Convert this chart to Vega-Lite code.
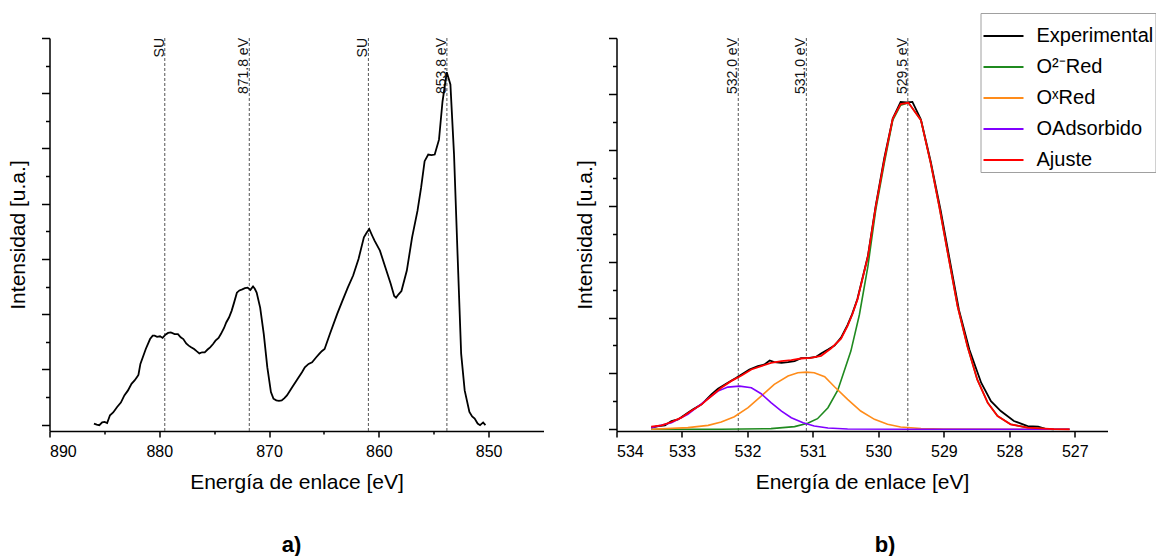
{
 "$schema": "https://vega.github.io/schema/vega-lite/v6.json",
 "padding": {"left": 7.5, "top": 12, "right": 0, "bottom": 0},
 "bounds": "flush",
 "spacing": 73,
 "config": {
  "view": {"stroke": null},
  "font": "Liberation Sans",
  "axis": {"domainColor": "black", "domainWidth": 1.5, "tickColor": "black", "tickWidth": 1.5, "labelColor": "black", "labelFont": "Liberation Sans", "labelFontSize": 16, "titleFont": "Liberation Sans", "titleFontSize": 21, "titleFontWeight": "normal", "titleColor": "black", "grid": false}
 },
 "datasets": {
  "ni": [
   {"E":885.95,"I":0.02},{"E":885.7,"I":0.0},{"E":885.46,"I":-0.01},{"E":885.2,"I":0.04},{"E":884.98,"I":0.05},{"E":884.75,"I":0.03},{"E":884.49,"I":0.17},{"E":884.2,"I":0.22},{"E":883.84,"I":0.32},{"E":883.5,"I":0.40},{"E":883.18,"I":0.53},{"E":882.85,"I":0.62},{"E":882.53,"I":0.74},{"E":882.25,"I":0.80},{"E":882.04,"I":0.86},{"E":881.9,"I":0.90},{"E":881.72,"I":1.10},{"E":881.5,"I":1.22},{"E":881.23,"I":1.37},{"E":880.84,"I":1.55},{"E":880.6,"I":1.61},{"E":880.42,"I":1.61},{"E":880.2,"I":1.59},{"E":879.93,"I":1.60},{"E":879.7,"I":1.57},{"E":879.44,"I":1.63},{"E":879.2,"I":1.66},{"E":878.95,"I":1.67},{"E":878.6,"I":1.64},{"E":878.3,"I":1.64},{"E":878.05,"I":1.58},{"E":877.81,"I":1.55},{"E":877.55,"I":1.47},{"E":877.32,"I":1.43},{"E":877.1,"I":1.40},{"E":876.83,"I":1.37},{"E":876.6,"I":1.33},{"E":876.35,"I":1.29},{"E":876.1,"I":1.31},{"E":875.86,"I":1.31},{"E":875.6,"I":1.36},{"E":875.37,"I":1.40},{"E":875.1,"I":1.46},{"E":874.88,"I":1.52},{"E":874.6,"I":1.57},{"E":874.39,"I":1.64},{"E":874.1,"I":1.75},{"E":873.9,"I":1.85},{"E":873.65,"I":1.94},{"E":873.41,"I":2.06},{"E":873.2,"I":2.20},{"E":872.93,"I":2.39},{"E":872.7,"I":2.43},{"E":872.44,"I":2.45},{"E":872.2,"I":2.47},{"E":871.95,"I":2.48},{"E":871.7,"I":2.44},{"E":871.46,"I":2.50},{"E":871.3,"I":2.46},{"E":871.13,"I":2.39},{"E":870.81,"I":2.12},{"E":870.48,"I":1.64},{"E":870.16,"I":1.04},{"E":869.83,"I":0.59},{"E":869.6,"I":0.47},{"E":869.34,"I":0.44},{"E":869.1,"I":0.43},{"E":868.85,"I":0.44},{"E":868.6,"I":0.48},{"E":868.37,"I":0.53},{"E":867.88,"I":0.68},{"E":867.39,"I":0.83},{"E":867.0,"I":0.95},{"E":866.74,"I":1.04},{"E":866.4,"I":1.10},{"E":866.08,"I":1.13},{"E":865.7,"I":1.22},{"E":865.43,"I":1.28},{"E":865.2,"I":1.33},{"E":864.94,"I":1.37},{"E":864.46,"I":1.64},{"E":863.8,"I":2.00},{"E":863.32,"I":2.24},{"E":862.83,"I":2.48},{"E":862.34,"I":2.70},{"E":861.85,"I":3.00},{"E":861.36,"I":3.39},{"E":861.1,"I":3.48},{"E":860.87,"I":3.54},{"E":860.6,"I":3.42},{"E":860.39,"I":3.33},{"E":859.9,"I":3.15},{"E":859.41,"I":2.85},{"E":858.92,"I":2.55},{"E":858.6,"I":2.33},{"E":858.43,"I":2.30},{"E":858.2,"I":2.36},{"E":857.94,"I":2.42},{"E":857.45,"I":2.79},{"E":856.97,"I":3.39},{"E":856.48,"I":3.87},{"E":856.15,"I":4.29},{"E":855.83,"I":4.77},{"E":855.5,"I":4.89},{"E":855.2,"I":4.88},{"E":854.91,"I":4.89},{"E":854.52,"I":5.16},{"E":854.2,"I":5.85},{"E":853.81,"I":6.38},{"E":853.48,"I":6.16},{"E":853.15,"I":4.89},{"E":852.83,"I":3.09},{"E":852.5,"I":1.28},{"E":852.18,"I":0.62},{"E":851.75,"I":0.23},{"E":851.5,"I":0.15},{"E":851.27,"I":0.11},{"E":851.0,"I":0.02},{"E":850.78,"I":-0.01},{"E":850.5,"I":0.04},{"E":850.29,"I":-0.01}
  ],
  "lines_a": [
   {"E":879.5,"t":"SU"},{"E":871.8,"t":"871.8 eV"},{"E":860.95,"t":"SU"},{"E":853.8,"t":"853.8 eV"}
  ],
  "lines_b": [
   {"E":532.14,"t":"532.0 eV"},{"E":531.1,"t":"531.0 eV"},{"E":529.55,"t":"529.5 eV"}
  ],
  "o": [
   {"s":"Experimental","E":533.47,"I":0.03},{"s":"Experimental","E":533.36,"I":0.059},{"s":"Experimental","E":533.26,"I":0.071},{"s":"Experimental","E":533.16,"I":0.149},{"s":"Experimental","E":533.06,"I":0.178},{"s":"Experimental","E":532.91,"I":0.297},{"s":"Experimental","E":532.83,"I":0.357},{"s":"Experimental","E":532.7,"I":0.446},{"s":"Experimental","E":532.55,"I":0.624},{"s":"Experimental","E":532.45,"I":0.726},{"s":"Experimental","E":532.3,"I":0.833},{"s":"Experimental","E":532.17,"I":0.922},{"s":"Experimental","E":532.09,"I":0.981},{"s":"Experimental","E":531.97,"I":1.07},{"s":"Experimental","E":531.84,"I":1.13},{"s":"Experimental","E":531.74,"I":1.16},{"s":"Experimental","E":531.66,"I":1.231},{"s":"Experimental","E":531.59,"I":1.201},{"s":"Experimental","E":531.48,"I":1.189},{"s":"Experimental","E":531.38,"I":1.201},{"s":"Experimental","E":531.28,"I":1.219},{"s":"Experimental","E":531.18,"I":1.273},{"s":"Experimental","E":531.08,"I":1.273},{"s":"Experimental","E":530.95,"I":1.297},{"s":"Experimental","E":530.875,"I":1.356},{"s":"Experimental","E":530.77,"I":1.427},{"s":"Experimental","E":530.67,"I":1.499},{"s":"Experimental","E":530.57,"I":1.64},{"s":"Experimental","E":530.47,"I":1.87},{"s":"Experimental","E":530.4,"I":2.06},{"s":"Experimental","E":530.32,"I":2.33},{"s":"Experimental","E":530.16,"I":3.1},{"s":"Experimental","E":530.04,"I":4.0},{"s":"Experimental","E":529.91,"I":4.85},{"s":"Experimental","E":529.78,"I":5.56},{"s":"Experimental","E":529.66,"I":5.858},{"s":"Experimental","E":529.57,"I":5.85},{"s":"Experimental","E":529.48,"I":5.858},{"s":"Experimental","E":529.35,"I":5.543},{"s":"Experimental","E":529.2,"I":4.787},{"s":"Experimental","E":529.05,"I":3.925},{"s":"Experimental","E":528.92,"I":3.093},{"s":"Experimental","E":528.77,"I":2.141},{"s":"Experimental","E":528.61,"I":1.427},{"s":"Experimental","E":528.43,"I":0.833},{"s":"Experimental","E":528.28,"I":0.505},{"s":"Experimental","E":528.13,"I":0.327},{"s":"Experimental","E":527.93,"I":0.149},{"s":"Experimental","E":527.72,"I":0.059},{"s":"Experimental","E":527.56,"I":0.048},{"s":"Experimental","E":527.46,"I":0.012},{"s":"Experimental","E":527.32,"I":0.0},
   {"s":"O²⁻Red","E":533.47,"I":0.0},{"s":"O²⁻Red","E":532.4,"I":0.0},{"s":"O²⁻Red","E":531.64,"I":0.012},{"s":"O²⁻Red","E":531.28,"I":0.048},{"s":"O²⁻Red","E":531.08,"I":0.107},{"s":"O²⁻Red","E":530.93,"I":0.19},{"s":"O²⁻Red","E":530.77,"I":0.387},{"s":"O²⁻Red","E":530.62,"I":0.7},{"s":"O²⁻Red","E":530.5,"I":1.12},{"s":"O²⁻Red","E":530.42,"I":1.4},{"s":"O²⁻Red","E":530.29,"I":2.05},{"s":"O²⁻Red","E":530.16,"I":2.914},{"s":"O²⁻Red","E":530.04,"I":3.925},{"s":"O²⁻Red","E":529.91,"I":4.758},{"s":"O²⁻Red","E":529.78,"I":5.531},{"s":"O²⁻Red","E":529.66,"I":5.798},{"s":"O²⁻Red","E":529.54,"I":5.84},{"s":"O²⁻Red","E":529.35,"I":5.531},{"s":"O²⁻Red","E":529.2,"I":4.758},{"s":"O²⁻Red","E":529.07,"I":3.985},{"s":"O²⁻Red","E":528.94,"I":3.152},{"s":"O²⁻Red","E":528.79,"I":2.2},{"s":"O²⁻Red","E":528.64,"I":1.487},{"s":"O²⁻Red","E":528.49,"I":0.892},{"s":"O²⁻Red","E":528.33,"I":0.476},{"s":"O²⁻Red","E":528.18,"I":0.238},{"s":"O²⁻Red","E":527.98,"I":0.089},{"s":"O²⁻Red","E":527.72,"I":0.03},{"s":"O²⁻Red","E":527.32,"I":0.0},{"s":"O²⁻Red","E":527.08,"I":0.0},
   {"s":"OˣRed","E":533.47,"I":0.0},{"s":"OˣRed","E":532.91,"I":0.03},{"s":"OˣRed","E":532.6,"I":0.071},{"s":"OˣRed","E":532.4,"I":0.131},{"s":"OˣRed","E":532.2,"I":0.226},{"s":"OˣRed","E":531.99,"I":0.387},{"s":"OˣRed","E":531.79,"I":0.595},{"s":"OˣRed","E":531.59,"I":0.803},{"s":"OˣRed","E":531.38,"I":0.952},{"s":"OˣRed","E":531.23,"I":1.011},{"s":"OˣRed","E":531.1,"I":1.023},{"s":"OˣRed","E":530.98,"I":1.011},{"s":"OˣRed","E":530.82,"I":0.94},{"s":"OˣRed","E":530.67,"I":0.761},{"s":"OˣRed","E":530.47,"I":0.535},{"s":"OˣRed","E":530.27,"I":0.327},{"s":"OˣRed","E":530.06,"I":0.178},{"s":"OˣRed","E":529.86,"I":0.089},{"s":"OˣRed","E":529.66,"I":0.042},{"s":"OˣRed","E":529.45,"I":0.024},{"s":"OˣRed","E":529.35,"I":0.012},{"s":"OˣRed","E":529.0,"I":0.003},{"s":"OˣRed","E":528.0,"I":0.0},{"s":"OˣRed","E":527.08,"I":0.0},
   {"s":"OAdsorbido","E":533.47,"I":0.03},{"s":"OAdsorbido","E":533.16,"I":0.119},{"s":"OAdsorbido","E":532.91,"I":0.268},{"s":"OAdsorbido","E":532.65,"I":0.505},{"s":"OAdsorbido","E":532.45,"I":0.684},{"s":"OAdsorbido","E":532.3,"I":0.755},{"s":"OAdsorbido","E":532.12,"I":0.773},{"s":"OAdsorbido","E":531.94,"I":0.743},{"s":"OAdsorbido","E":531.79,"I":0.636},{"s":"OAdsorbido","E":531.64,"I":0.476},{"s":"OAdsorbido","E":531.48,"I":0.327},{"s":"OAdsorbido","E":531.33,"I":0.208},{"s":"OAdsorbido","E":531.15,"I":0.119},{"s":"OAdsorbido","E":530.98,"I":0.059},{"s":"OAdsorbido","E":530.77,"I":0.024},{"s":"OAdsorbido","E":530.47,"I":0.005},{"s":"OAdsorbido","E":529.5,"I":0.0},{"s":"OAdsorbido","E":528.0,"I":0.0},{"s":"OAdsorbido","E":527.08,"I":0.0},
   {"s":"Ajuste","E":533.47,"I":0.048},{"s":"Ajuste","E":533.31,"I":0.071},{"s":"Ajuste","E":533.16,"I":0.131},{"s":"Ajuste","E":533.01,"I":0.208},{"s":"Ajuste","E":532.86,"I":0.327},{"s":"Ajuste","E":532.7,"I":0.446},{"s":"Ajuste","E":532.55,"I":0.595},{"s":"Ajuste","E":532.4,"I":0.743},{"s":"Ajuste","E":532.25,"I":0.862},{"s":"Ajuste","E":532.09,"I":0.963},{"s":"Ajuste","E":531.94,"I":1.07},{"s":"Ajuste","E":531.79,"I":1.13},{"s":"Ajuste","E":531.64,"I":1.189},{"s":"Ajuste","E":531.48,"I":1.219},{"s":"Ajuste","E":531.33,"I":1.237},{"s":"Ajuste","E":531.18,"I":1.267},{"s":"Ajuste","E":531.03,"I":1.279},{"s":"Ajuste","E":530.875,"I":1.315},{"s":"Ajuste","E":530.72,"I":1.45},{"s":"Ajuste","E":530.57,"I":1.62},{"s":"Ajuste","E":530.47,"I":1.85},{"s":"Ajuste","E":530.4,"I":2.05},{"s":"Ajuste","E":530.32,"I":2.32},{"s":"Ajuste","E":530.16,"I":3.09},{"s":"Ajuste","E":530.04,"I":3.985},{"s":"Ajuste","E":529.91,"I":4.817},{"s":"Ajuste","E":529.78,"I":5.56},{"s":"Ajuste","E":529.66,"I":5.816},{"s":"Ajuste","E":529.54,"I":5.84},{"s":"Ajuste","E":529.35,"I":5.531},{"s":"Ajuste","E":529.2,"I":4.758},{"s":"Ajuste","E":529.07,"I":3.985},{"s":"Ajuste","E":528.94,"I":3.152},{"s":"Ajuste","E":528.79,"I":2.2},{"s":"Ajuste","E":528.64,"I":1.487},{"s":"Ajuste","E":528.49,"I":0.892},{"s":"Ajuste","E":528.33,"I":0.476},{"s":"Ajuste","E":528.18,"I":0.238},{"s":"Ajuste","E":527.98,"I":0.089},{"s":"Ajuste","E":527.72,"I":0.03},{"s":"Ajuste","E":527.32,"I":0.005},{"s":"Ajuste","E":527.08,"I":0.0}
  ]
 },
 "hconcat": [
  {
   "width": 494,
   "height": 393,
   "title": {"text": "a)", "orient": "bottom", "fontSize": 22, "fontWeight": "bold", "frame": "group", "anchor": "middle", "dx": -5, "offset": 43, "color": "black", "font": "Liberation Sans"},
   "layer": [
    {
     "data": {"name": "lines_a"},
     "mark": {"type": "rule", "strokeDash": [3, 2], "color": "#555555", "strokeWidth": 1},
     "encoding": {
      "x": {"field": "E", "type": "quantitative", "scale": {"domain": [845, 890], "reverse": true, "nice": false, "zero": false},
       "axis": {"values": [850, 855, 860, 865, 870, 875, 880, 885, 890], "format": "d", "labelExpr": "datum.value % 10 === 0 ? datum.label : ''", "tickSize": {"condition": {"test": "datum.value % 10 === 0", "value": 6}, "value": 3}, "labelPadding": 6, "titlePadding": 12, "title": "Energía de enlace [eV]"}}
     }
    },
    {
     "data": {"name": "lines_a"},
     "mark": {"type": "text", "angle": 270, "align": "right", "baseline": "alphabetic", "fontSize": 14, "color": "#111111", "font": "Liberation Sans", "dy": -1},
     "encoding": {
      "x": {"field": "E", "type": "quantitative", "scale": {"domain": [845, 890], "reverse": true, "nice": false, "zero": false},
       "axis": {"values": [850, 855, 860, 865, 870, 875, 880, 885, 890], "format": "d", "labelExpr": "datum.value % 10 === 0 ? datum.label : ''", "tickSize": {"condition": {"test": "datum.value % 10 === 0", "value": 6}, "value": 3}, "labelPadding": 6, "titlePadding": 12, "title": "Energía de enlace [eV]"}},
      "y": {"datum": 7, "type": "quantitative", "scale": {"domain": [-0.115, 7], "nice": false, "zero": false},
       "axis": {"values": [0, 0.5, 1, 1.5, 2, 2.5, 3, 3.5, 4, 4.5, 5, 5.5, 6, 6.5, 7], "labels": false, "tickSize": {"condition": {"test": "datum.value % 1 === 0", "value": 8}, "value": 4}, "titlePadding": 12, "title": "Intensidad [u.a.]"}},
      "text": {"field": "t"}
     }
    },
    {
     "data": {"name": "ni"},
     "mark": {"type": "line", "color": "black", "strokeWidth": 1.8},
     "encoding": {
      "x": {"field": "E", "type": "quantitative", "scale": {"domain": [845, 890], "reverse": true, "nice": false, "zero": false},
       "axis": {"values": [850, 855, 860, 865, 870, 875, 880, 885, 890], "format": "d", "labelExpr": "datum.value % 10 === 0 ? datum.label : ''", "tickSize": {"condition": {"test": "datum.value % 10 === 0", "value": 6}, "value": 3}, "labelPadding": 6, "titlePadding": 12, "title": "Energía de enlace [eV]"}},
      "y": {"field": "I", "type": "quantitative", "scale": {"domain": [-0.115, 7], "nice": false, "zero": false},
       "axis": {"values": [0, 0.5, 1, 1.5, 2, 2.5, 3, 3.5, 4, 4.5, 5, 5.5, 6, 6.5, 7], "labels": false, "tickSize": {"condition": {"test": "datum.value % 1 === 0", "value": 8}, "value": 4}, "titlePadding": 12, "title": "Intensidad [u.a.]"}}
     }
    }
   ]
  },
  {
   "width": 491,
   "height": 393,
   "title": {"text": "b)", "orient": "bottom", "fontSize": 22, "fontWeight": "bold", "frame": "group", "anchor": "middle", "dx": 23, "offset": 43, "color": "black", "font": "Liberation Sans"},
   "layer": [
    {
     "data": {"name": "lines_b"},
     "mark": {"type": "rule", "strokeDash": [3, 2], "color": "#555555", "strokeWidth": 1},
     "encoding": {
      "x": {"field": "E", "type": "quantitative", "scale": {"domain": [526.5, 534], "reverse": true, "nice": false, "zero": false},
       "axis": {"values": [527, 527.5, 528, 528.5, 529, 529.5, 530, 530.5, 531, 531.5, 532, 532.5, 533, 533.5, 534], "format": "d", "labelExpr": "datum.value % 1 === 0 ? datum.label : ''", "tickSize": {"condition": {"test": "datum.value % 1 === 0", "value": 6}, "value": 3}, "labelPadding": 6, "titlePadding": 12, "title": "Energía de enlace [eV]"}}
     }
    },
    {
     "data": {"name": "lines_b"},
     "mark": {"type": "text", "angle": 270, "align": "right", "baseline": "alphabetic", "fontSize": 14, "color": "#111111", "font": "Liberation Sans", "dy": -1},
     "encoding": {
      "x": {"field": "E", "type": "quantitative", "scale": {"domain": [526.5, 534], "reverse": true, "nice": false, "zero": false},
       "axis": {"values": [527, 527.5, 528, 528.5, 529, 529.5, 530, 530.5, 531, 531.5, 532, 532.5, 533, 533.5, 534], "format": "d", "labelExpr": "datum.value % 1 === 0 ? datum.label : ''", "tickSize": {"condition": {"test": "datum.value % 1 === 0", "value": 6}, "value": 3}, "labelPadding": 6, "titlePadding": 12, "title": "Energía de enlace [eV]"}},
      "y": {"datum": 7, "type": "quantitative", "scale": {"domain": [-0.03, 7], "nice": false, "zero": false},
       "axis": {"values": [0, 0.5, 1, 1.5, 2, 2.5, 3, 3.5, 4, 4.5, 5, 5.5, 6, 6.5, 7], "labels": false, "tickSize": {"condition": {"test": "datum.value % 1 === 0", "value": 8}, "value": 4}, "titlePadding": 12, "title": "Intensidad [u.a.]"}},
      "text": {"field": "t"}
     }
    },
    {
     "data": {"name": "o"},
     "transform": [{"filter": "datum.s === 'Experimental'"}],
     "mark": {"type": "line", "strokeWidth": 1.8},
     "encoding": {
      "x": {"field": "E", "type": "quantitative", "scale": {"domain": [526.5, 534], "reverse": true, "nice": false, "zero": false},
       "axis": {"values": [527, 527.5, 528, 528.5, 529, 529.5, 530, 530.5, 531, 531.5, 532, 532.5, 533, 533.5, 534], "format": "d", "labelExpr": "datum.value % 1 === 0 ? datum.label : ''", "tickSize": {"condition": {"test": "datum.value % 1 === 0", "value": 6}, "value": 3}, "labelPadding": 6, "titlePadding": 12, "title": "Energía de enlace [eV]"}},
      "y": {"field": "I", "type": "quantitative", "scale": {"domain": [-0.03, 7], "nice": false, "zero": false},
       "axis": {"values": [0, 0.5, 1, 1.5, 2, 2.5, 3, 3.5, 4, 4.5, 5, 5.5, 6, 6.5, 7], "labels": false, "tickSize": {"condition": {"test": "datum.value % 1 === 0", "value": 8}, "value": 4}, "titlePadding": 12, "title": "Intensidad [u.a.]"}},
      "color": {"field": "s", "type": "nominal",
       "scale": {"domain": ["Experimental", "O²⁻Red", "OˣRed", "OAdsorbido", "Ajuste"], "range": ["#000000", "#1f8a1f", "#ff8c1a", "#8000ff", "#ff0000"]},
       "legend": {"orient": "none", "legendX": 931, "legendY": -25, "title": null, "symbolType": "stroke", "symbolSize": 1600, "symbolStrokeWidth": 2, "labelFontSize": 20, "labelFont": "Liberation Sans", "labelColor": "black", "strokeColor": "#a0a0a0", "padding": 2, "rowPadding": -2, "labelOffset": 12}}
     }
    },
    {
     "data": {"name": "o"},
     "transform": [{"filter": "datum.s !== 'Experimental' && datum.s !== 'Ajuste'"}],
     "mark": {"type": "line", "strokeWidth": 1.6},
     "encoding": {
      "x": {"field": "E", "type": "quantitative", "scale": {"domain": [526.5, 534], "reverse": true, "nice": false, "zero": false},
       "axis": {"values": [527, 527.5, 528, 528.5, 529, 529.5, 530, 530.5, 531, 531.5, 532, 532.5, 533, 533.5, 534], "format": "d", "labelExpr": "datum.value % 1 === 0 ? datum.label : ''", "tickSize": {"condition": {"test": "datum.value % 1 === 0", "value": 6}, "value": 3}, "labelPadding": 6, "titlePadding": 12, "title": "Energía de enlace [eV]"}},
      "y": {"field": "I", "type": "quantitative", "scale": {"domain": [-0.03, 7], "nice": false, "zero": false},
       "axis": {"values": [0, 0.5, 1, 1.5, 2, 2.5, 3, 3.5, 4, 4.5, 5, 5.5, 6, 6.5, 7], "labels": false, "tickSize": {"condition": {"test": "datum.value % 1 === 0", "value": 8}, "value": 4}, "titlePadding": 12, "title": "Intensidad [u.a.]"}},
      "color": {"field": "s", "type": "nominal", "scale": {"domain": ["Experimental", "O²⁻Red", "OˣRed", "OAdsorbido", "Ajuste"], "range": ["#000000", "#1f8a1f", "#ff8c1a", "#8000ff", "#ff0000"]}}
     }
    },
    {
     "data": {"name": "o"},
     "transform": [{"filter": "datum.s === 'Ajuste'"}],
     "mark": {"type": "line", "strokeWidth": 1.8},
     "encoding": {
      "x": {"field": "E", "type": "quantitative", "scale": {"domain": [526.5, 534], "reverse": true, "nice": false, "zero": false},
       "axis": {"values": [527, 527.5, 528, 528.5, 529, 529.5, 530, 530.5, 531, 531.5, 532, 532.5, 533, 533.5, 534], "format": "d", "labelExpr": "datum.value % 1 === 0 ? datum.label : ''", "tickSize": {"condition": {"test": "datum.value % 1 === 0", "value": 6}, "value": 3}, "labelPadding": 6, "titlePadding": 12, "title": "Energía de enlace [eV]"}},
      "y": {"field": "I", "type": "quantitative", "scale": {"domain": [-0.03, 7], "nice": false, "zero": false},
       "axis": {"values": [0, 0.5, 1, 1.5, 2, 2.5, 3, 3.5, 4, 4.5, 5, 5.5, 6, 6.5, 7], "labels": false, "tickSize": {"condition": {"test": "datum.value % 1 === 0", "value": 8}, "value": 4}, "titlePadding": 12, "title": "Intensidad [u.a.]"}},
      "color": {"field": "s", "type": "nominal", "scale": {"domain": ["Experimental", "O²⁻Red", "OˣRed", "OAdsorbido", "Ajuste"], "range": ["#000000", "#1f8a1f", "#ff8c1a", "#8000ff", "#ff0000"]}}
     }
    }
   ]
  }
 ]
}
